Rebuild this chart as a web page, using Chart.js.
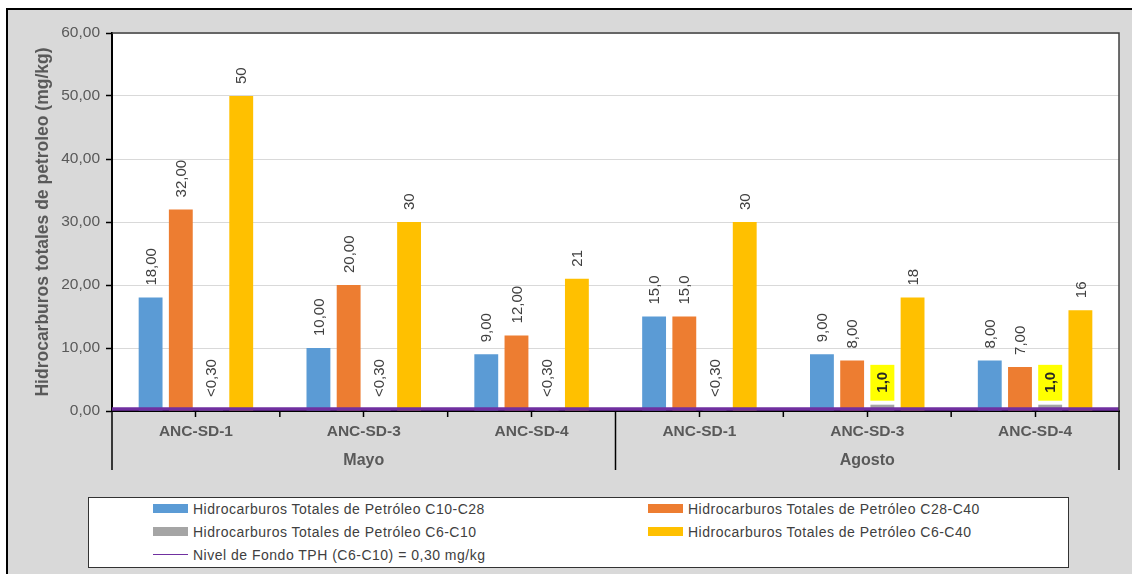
<!DOCTYPE html>
<html><head><meta charset="utf-8">
<script src="https://cdn.jsdelivr.net/npm/chart.js@4"></script>
<style>
html,body{margin:0;padding:0;background:#fff;width:1132px;height:574px;overflow:hidden;font-family:"Liberation Sans",Arial,sans-serif;}
#frame{position:absolute;left:6px;top:8px;width:1200px;height:600px;background:#d9d9d9;border-top:2.5px solid #000;border-left:2px solid #000;}
#wrap{position:absolute;left:0;top:0;width:1132px;height:490px;}
#legend{position:absolute;left:88px;top:497px;width:981px;height:71px;background:#fff;border:1.5px solid #333;box-sizing:border-box;}
.item{position:absolute;display:flex;align-items:center;height:18px;font-size:14px;color:#404040;white-space:nowrap;letter-spacing:0.5px;}
.sw{width:35px;height:9px;margin-right:5px;flex:none;}
.ln{width:35px;height:1.5px;margin-right:5px;flex:none;}
</style></head><body>
<div id="frame"></div>
<div id="wrap"><canvas id="c" width="1132" height="490"></canvas></div>
<div id="legend"></div>
<script>
const categories = ['ANC-SD-1','ANC-SD-3','ANC-SD-4','ANC-SD-1','ANC-SD-3','ANC-SD-4'];
const groups = ['Mayo','Agosto'];
const groupSizes = [3,3];

const seriesNames = [
  'Hidrocarburos Totales de Petróleo C10-C28',
  'Hidrocarburos Totales de Petróleo C28-C40',
  'Hidrocarburos Totales de Petróleo C6-C10',
  'Hidrocarburos Totales de Petróleo C6-C40'
];
const seriesColors = ['#5b9bd5','#ed7d31','#a5a5a5','#ffc000'];
const levelName = 'Nivel de Fondo TPH  (C6-C10) = 0,30 mg/kg';
const levelColor = '#7030a0';

const valuesC10C28 = [18, 10, 9, 15, 9, 8];
const valuesC28C40 = [32, 20, 12, 15, 8, 7];
const valuesC6C10  = [0.3, 0.3, 0.3, 0.3, 1.0, 1.0];
const valuesC6C40  = [50, 30, 21, 30, 18, 16];
const backgroundLevel = 0.3;

const labelsC10C28 = ['18,00','10,00','9,00','15,0','9,00','8,00'];
const labelsC28C40 = ['32,00','20,00','12,00','15,0','8,00','7,00'];
const labelsC6C10  = ['<0,30','<0,30','<0,30','<0,30','1,0','1,0'];
const labelsC6C40  = ['50','30','21','30','18','16'];
const highlightC6C10 = [false,false,false,false,true,true];

const yTicks = [0,10,20,30,40,50,60];
const yTickLabels = ['0,00','10,00','20,00','30,00','40,00','50,00','60,00'];
const yTitle = 'Hidrocarburos totales de petroleo (mg/kg)';

Chart.defaults.font.family = '"Liberation Sans", Arial, sans-serif';

const plotFrame = {
  id:'plotFrame',
  beforeDraw(chart){
    const {ctx, chartArea:a} = chart;
    ctx.save(); ctx.fillStyle='#fff';
    ctx.fillRect(a.left, a.top, a.right-a.left, a.bottom-a.top);
    ctx.restore();
  },
  afterDraw(chart){
    const {ctx, chartArea:a} = chart;
    ctx.save();
    ctx.strokeStyle='#404040'; ctx.lineWidth=1.5;
    ctx.beginPath(); ctx.moveTo(a.left, a.top); ctx.lineTo(a.right, a.top); ctx.lineTo(a.right, a.bottom); ctx.stroke();
    const x = chart.scales.x;
    const n = categories.length;
    const step = x.getPixelForValue(1) - x.getPixelForValue(0);
    const edges = [];
    for (let i=0;i<=n;i++) edges.push(x.getPixelForValue(0) + (i-0.5)*step);
    ctx.strokeStyle='#000'; ctx.lineWidth=1.5;
    let idx = 0; const groupEdges=[0];
    groupSizes.forEach(s=>{ idx+=s; groupEdges.push(idx); });
    for (let i=0;i<=n;i++){
      const isGroup = groupEdges.includes(i);
      ctx.beginPath(); ctx.moveTo(edges[i], a.bottom); ctx.lineTo(edges[i], a.bottom + (isGroup?59:6)); ctx.stroke();
    }
    ctx.fillStyle='#595959'; ctx.font='bold 16px "Liberation Sans", Arial, sans-serif';
    ctx.textAlign='center'; ctx.textBaseline='middle';
    groups.forEach((g,k)=>{
      const cx = (edges[groupEdges[k]] + edges[groupEdges[k+1]])/2;
      ctx.fillText(g, cx, a.bottom + 50);
    });
    ctx.restore();
  }
};

// background level line, positioned with the y scale
const levelLine = {
  id:'levelLine',
  afterDatasetsDraw(chart){
    const {ctx, chartArea:a} = chart;
    const y = chart.scales.y.getPixelForValue(backgroundLevel);
    ctx.save();
    ctx.strokeStyle = levelColor; ctx.lineWidth = 3.5;
    ctx.beginPath(); ctx.moveTo(a.left, y); ctx.lineTo(a.right, y); ctx.stroke();
    ctx.restore();
  }
};

const barLabels = {
  id:'barLabels',
  afterDatasetsDraw(chart){
    const ctx = chart.ctx;
    chart.data.datasets.forEach((ds,i)=>{
      if(!ds.valueLabels) return;
      const meta = chart.getDatasetMeta(i);
      meta.data.forEach((el,j)=>{
        const txt = ds.valueLabels[j];
        const hl = ds.highlight && ds.highlight[j];
        ctx.save();
        ctx.translate(el.x, el.y - 12);
        ctx.rotate(-Math.PI/2);
        ctx.font = (hl?'bold ':'') + '15px "Liberation Sans", Arial, sans-serif';
        ctx.textAlign='left'; ctx.textBaseline='middle';
        if (hl){
          const w = ctx.measureText(txt).width;
          ctx.fillStyle='#ffff00';
          ctx.fillRect(-8, -12, w+15, 24);
          ctx.fillStyle='#262626';
        } else ctx.fillStyle='#404040';
        ctx.fillText(txt, 0, 1);
        ctx.restore();
      });
    });
  }
};

const chart = new Chart(document.getElementById('c'), {
  type:'bar',
  data:{
    labels: categories,
    datasets:[
      {label:seriesNames[0], data:valuesC10C28, backgroundColor:seriesColors[0], valueLabels:labelsC10C28},
      {label:seriesNames[1], data:valuesC28C40, backgroundColor:seriesColors[1], valueLabels:labelsC28C40},
      {label:seriesNames[2], data:valuesC6C10, backgroundColor:seriesColors[2], valueLabels:labelsC6C10, highlight:highlightC6C10},
      {label:seriesNames[3], data:valuesC6C40, backgroundColor:seriesColors[3], valueLabels:labelsC6C40}
    ]
  },
  options:{
    responsive:false, animation:false, devicePixelRatio:1,
    datasets:{bar:{categoryPercentage:0.72, barPercentage:0.79}},
    layout:{padding:{top:33,right:13,left:0,bottom:0}},
    plugins:{legend:{display:false}, tooltip:{enabled:false}},
    scales:{
      x:{
        grid:{offset:false, drawOnChartArea:false, drawTicks:true, tickLength:6, tickColor:'#000', tickWidth:1.5},
        border:{color:'#000', width:2},
        ticks:{color:'#595959', font:{size:15.5, weight:'bold'}, padding:5, maxRotation:0, autoSkip:false},
        afterFit(s){ s.height = 79; }
      },
      y:{
        min:0, max:60,
        afterBuildTicks(s){ s.ticks = yTicks.map(v=>({value:v})); },
        ticks:{color:'#595959', font:{size:15.5}, padding:6,
          callback:(v)=> yTickLabels[yTicks.indexOf(v)]},
        grid:{color:'#d9d9d9', lineWidth:1, tickLength:6, tickColor:'#000', tickWidth:1.5},
        border:{color:'#000', width:2},
        title:{display:true, text:yTitle, color:'#595959', font:{size:17.5, weight:'bold'}, padding:{top:33,bottom:0}},
        afterFit(s){ s.width = 112; }
      }
    }
  },
  plugins:[plotFrame, levelLine, barLabels]
});

const legend = document.getElementById('legend');
const pos = [[64,1.5],[559,1.5],[64,24.5],[559,24.5],[64,47.5]];
const legendItems = chart.data.datasets.map(ds=>({label:ds.label, color:ds.backgroundColor, line:false}))
  .concat([{label:levelName, color:levelColor, line:true}]);
legendItems.forEach((li,k)=>{
  const it = document.createElement('div');
  it.className='item';
  it.style.left = pos[k][0]+'px'; it.style.top = pos[k][1]+'px';
  const sw = document.createElement('span');
  sw.className = li.line ? 'ln' : 'sw'; sw.style.background = li.color;
  const tx = document.createElement('span'); tx.textContent = li.label;
  it.appendChild(sw); it.appendChild(tx);
  legend.appendChild(it);
});
</script>
</body></html>
